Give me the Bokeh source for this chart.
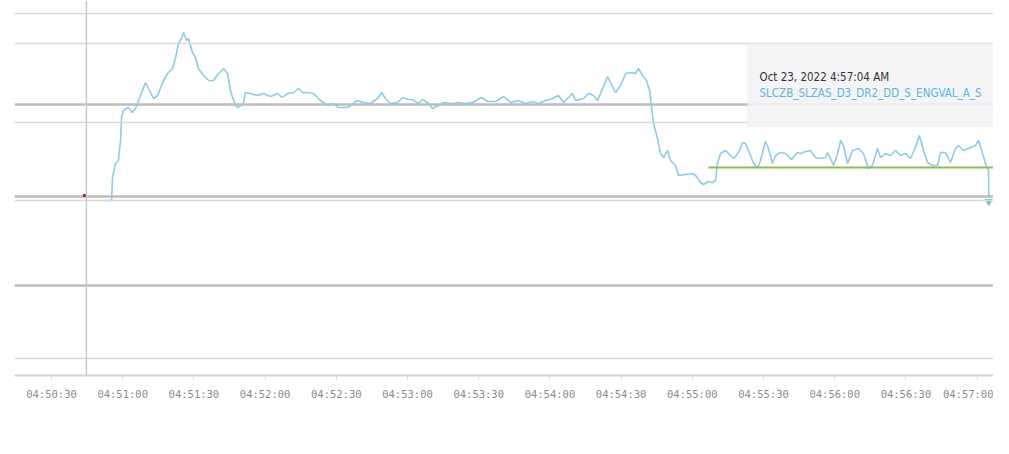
from bokeh.plotting import figure
from bokeh.models import Range1d, FixedTicker, Span, BoxAnnotation
from bokeh.core.properties import value
from bokeh.embed import file_html
from bokeh.resources import INLINE

# seconds after 04:50:00 on Oct 23, 2022
times = [52.3, 55.3, 55.7, 57.0, 58.2, 59.1, 59.5, 60.3, 62.4, 64.1, 65.4, 66.7, 68.3, 69.6, 70.9,
         73.0, 74.7, 76.8, 78.9, 81.0, 82.3, 83.5, 84.8, 85.6, 86.9, 87.7, 89.4, 90.7, 91.9, 94.1,
         96.2, 98.3, 100.4, 102.5, 104.2, 105.4, 106.3, 107.5, 108.8, 110.9, 111.7, 113.9, 116.8,
         119.3, 122.3, 125.2, 127.3, 129.4, 132.0, 134.1, 135.8, 137.9, 140.4, 143.3, 146.3, 148.8,
         150.9, 154.7, 156.0, 158.9, 161.5, 164.4, 167.4, 169.1, 170.7, 172.8, 175.8, 177.9, 180.4,
         182.1, 184.6, 186.3, 188.9, 190.5, 193.1, 195.2, 199.0, 201.5, 204.4, 207.4, 211.2, 213.7,
         217.1, 220.5, 223.4, 226.8, 229.7, 232.7, 235.2, 238.2, 241.1, 243.6, 245.7, 247.4, 249.5,
         250.8, 254.2, 256.3, 258.4, 260.1, 262.2, 264.3, 265.5, 267.6, 269.8, 271.9, 274.0, 276.1,
         277.3, 279.0, 280.7, 282.0, 282.8, 283.7, 285.3, 286.6, 287.9, 289.6, 290.8, 292.9, 294.2,
         297.1, 300.1, 301.4, 303.5, 304.7, 306.8, 308.5, 309.8, 310.6, 311.9, 314.0, 316.1, 317.4,
         319.5, 321.2, 322.4, 323.7, 325.8, 327.5, 328.7, 330.8, 332.1, 333.8, 335.1, 337.2, 339.3,
         341.8, 344.3, 345.6, 347.7, 349.8, 351.9, 354.0, 356.1, 357.0, 358.2, 359.5, 361.2, 362.5,
         363.7, 365.4, 367.5, 370.0, 372.1, 374.2, 375.9, 378.0, 379.3, 381.4, 383.5, 385.6, 387.7,
         389.8, 391.9, 394.0, 395.7, 397.4, 399.1, 401.2, 403.3, 404.6, 406.7, 408.8, 410.9, 412.2,
         414.3, 417.2, 419.3, 420.6, 422.3, 423.5, 424.8, 424.9]
values = [17.5, 17.5, 19.8, 21.2, 21.5, 23.5, 25.8, 26.5, 26.8, 26.3, 26.7, 27.5, 28.5, 29.3, 28.7,
          27.7, 28.0, 29.3, 30.2, 30.7, 31.8, 33.2, 33.7, 34.3, 33.5, 33.7, 32.3, 31.8, 30.7, 30.0,
          29.5, 29.5, 30.2, 30.7, 30.2, 28.5, 27.8, 27.0, 26.8, 27.2, 28.3, 28.2, 28.0,
          28.2, 27.9, 28.2, 27.8, 28.2, 28.3, 28.7, 28.3, 28.3, 28.2, 27.5, 27.0, 27.2,
          26.8, 26.8, 27.0, 27.5, 27.3, 27.2, 27.7, 28.3, 27.7, 27.2, 27.3, 27.8, 27.6,
          27.6, 27.2, 27.6, 27.2, 26.7, 27.0, 27.3, 27.2, 27.3, 27.2, 27.3, 27.8, 27.4,
          27.4, 27.9, 27.3, 27.5, 27.2, 27.4, 27.2, 27.5, 27.7, 28.0, 27.3, 27.7, 28.2,
          27.5, 27.7, 28.2, 28.0, 27.5, 28.7, 29.9, 29.3, 28.3, 29.0, 30.2, 30.3, 30.2,
          30.7, 30.0, 29.5, 28.5, 26.8, 25.2, 23.7, 22.2, 21.8, 22.5, 21.5, 21.0, 20.0,
          20.1, 20.2, 20.0, 19.3, 19.1, 19.4, 19.3, 19.5, 21.2, 22.2, 22.5, 22.0, 21.7,
          22.3, 23.3, 23.2, 22.5, 21.2, 20.8, 21.5, 23.4, 22.7, 21.2, 22.0, 22.3, 22.2,
          21.6, 22.3, 22.2, 22.4, 22.5, 21.8, 21.7, 21.8, 22.3, 21.7, 21.0, 22.2, 23.5,
          23.0, 21.2, 22.5, 22.7, 22.2, 20.7, 21.0, 22.7, 21.8, 22.2, 22.0, 22.5, 22.0,
          22.2, 21.7, 22.8, 24.0, 22.5, 21.3, 21.0, 21.0, 22.3, 22.3, 21.3, 22.7, 23.0,
          22.5, 22.8, 23.0, 23.5, 22.2, 21.2, 20.5, 17.8]

arrow_time = [424.9]
arrow_value = [17.4]

marker_time = [43.9]
marker_value = [18.0]

green_times = [306.8, 427.8]
green_values = [20.8, 20.8]

tick_seconds = [30, 60, 90, 120, 150, 180, 210, 240, 270, 300, 330, 360, 390, 420]
tick_labels = ["04:50:30", "04:51:00", "04:51:30", "04:52:00", "04:52:30", "04:53:00",
               "04:53:30", "04:54:00", "04:54:30", "04:55:00", "04:55:30", "04:56:00",
               "04:56:30", "04:57:00"]

major_grid = [9.0, 17.9, 27.1]
light_lines = [36.2, 33.2, 25.3, 17.5, 1.7]
cursor_time = 44.7

tooltip_title = "Oct 23, 2022 4:57:04 AM"
tooltip_series = "SLCZB_SLZAS_D3_DR2_DD_S_ENGVAL_A_S"
tooltip_left, tooltip_top, tooltip_bottom = 323.3, 33.2, 24.9
tooltip_text_x = 328.3
tooltip_title_y = 29.9
tooltip_series_y = 28.3

p = figure(width=993, height=438, output_backend="svg", toolbar_location=None,
           x_range=Range1d(14.41, 426.9), y_range=Range1d(0, 37.5),
           min_border_left=14, min_border_right=0, min_border_top=0, min_border_bottom=63)
p.background_fill_color = "white"
p.border_fill_color = "white"
p.outline_line_color = None

p.yaxis.visible = False
p.xgrid.visible = False
p.ygrid.ticker = FixedTicker(ticks=major_grid)
p.ygrid.grid_line_color = "#bdbdbd"
p.ygrid.grid_line_width = 2.5

for v in light_lines:
    p.add_layout(Span(location=v, dimension="width", line_color="#d9d9d9", line_width=1.6))
p.add_layout(Span(location=cursor_time, dimension="height", line_color="#c9c9c9", line_width=1.5))

xa = p.xaxis[0]
xa.ticker = FixedTicker(ticks=tick_seconds)
xa.major_label_overrides = {t: l for t, l in zip(tick_seconds, tick_labels)}
xa.axis_line_color = "#d2d2d2"
xa.axis_line_width = 2
xa.major_tick_line_color = "#d6d6d6"
xa.major_tick_out = 4
xa.major_tick_in = 0
xa.minor_tick_line_color = None
xa.major_label_text_font = "DejaVu Sans Mono"
xa.major_label_text_font_size = "10.5px"
xa.major_label_text_color = "#8a8a8a"
xa.major_label_standoff = 8

p.line(times, values, line_color="#8ccce5", line_width=1.6)
p.scatter(arrow_time, arrow_value, marker="inverted_triangle", size=7,
          fill_color="#6fbfe0", line_color="#6fbfe0")
p.scatter(marker_time, marker_value, marker="square", size=3,
          fill_color="#8b2a2a", line_color=None)
p.line(green_times, green_values, line_color="#8fbc55", line_width=2.2)

p.add_layout(BoxAnnotation(left=tooltip_left, top=tooltip_top, bottom=tooltip_bottom,
                           fill_color="#f2f3f5", fill_alpha=0.88,
                           line_color="#e2e2e2", line_width=1))

tip_font = value("'Liberation Sans Narrow', 'DejaVu Sans Condensed', Roboto")
r1 = p.text([tooltip_text_x], [tooltip_title_y], text=[tooltip_title],
            text_font=tip_font, text_font_size="11.5px", text_color="#333333",
            text_align="left", text_baseline="middle")
r2 = p.text([tooltip_text_x], [tooltip_series_y], text=[tooltip_series],
            text_font=tip_font, text_font_size="11.5px", text_color="#5db6dc",
            text_align="left", text_baseline="middle")
r1.level = "overlay"
r2.level = "overlay"

open("out.html", "w").write(file_html(p, INLINE))
